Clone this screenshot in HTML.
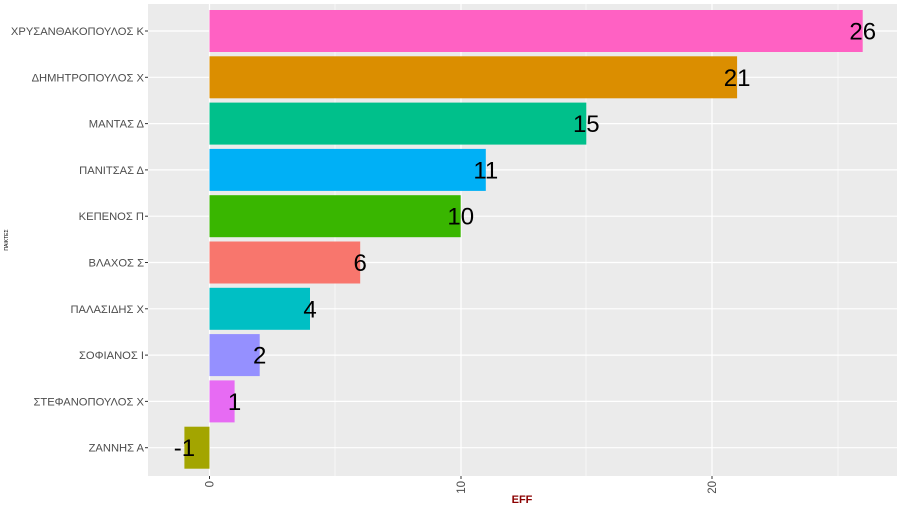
<!DOCTYPE html>
<html><head><meta charset="utf-8"><style>body{margin:0;background:#fff}</style></head><body>
<svg width="900" height="506" xmlns="http://www.w3.org/2000/svg" font-family="Liberation Sans, sans-serif">
<rect x="148" y="4" width="749" height="472" fill="#EBEBEB"/>
<g stroke="#fff" stroke-width="0.6">
<line x1="335" y1="4" x2="335" y2="476"/><line x1="586" y1="4" x2="586" y2="476"/><line x1="838" y1="4" x2="838" y2="476"/>
</g>
<g stroke="#fff" stroke-width="1.2">
<line x1="209.5" y1="4" x2="209.5" y2="476"/><line x1="461" y1="4" x2="461" y2="476"/><line x1="712" y1="4" x2="712" y2="476"/>
<line x1="148" y1="31" x2="897" y2="31"/><line x1="148" y1="77.3" x2="897" y2="77.3"/><line x1="148" y1="123.6" x2="897" y2="123.6"/><line x1="148" y1="169.9" x2="897" y2="169.9"/><line x1="148" y1="216.2" x2="897" y2="216.2"/><line x1="148" y1="262.5" x2="897" y2="262.5"/><line x1="148" y1="308.8" x2="897" y2="308.8"/><line x1="148" y1="355.1" x2="897" y2="355.1"/><line x1="148" y1="401.4" x2="897" y2="401.4"/><line x1="148" y1="447.7" x2="897" y2="447.7"/>
</g>
<g>
<rect x="209.5" y="10" width="653.2" height="42" fill="#FF61C3"/>
<rect x="209.5" y="56.3" width="527.6" height="42" fill="#DB8E00"/>
<rect x="209.5" y="102.6" width="376.8" height="42" fill="#00C08B"/>
<rect x="209.5" y="148.9" width="276.3" height="42" fill="#00B0F6"/>
<rect x="209.5" y="195.2" width="251.2" height="42" fill="#39B600"/>
<rect x="209.5" y="241.5" width="150.7" height="42" fill="#F8766D"/>
<rect x="209.5" y="287.8" width="100.5" height="42" fill="#00BFC4"/>
<rect x="209.5" y="334.1" width="50.2" height="42" fill="#9590FF"/>
<rect x="209.5" y="380.4" width="25.1" height="42" fill="#E76BF3"/>
<rect x="184.4" y="426.7" width="25.1" height="42" fill="#A3A500"/>
</g>
<g font-size="24" text-anchor="middle" fill="#000">
<text x="862.7" y="39.5">26</text><text x="737.1" y="85.8">21</text><text x="586.3" y="132.1">15</text><text x="485.8" y="178.4">11</text><text x="460.7" y="224.7">10</text><text x="360.2" y="271">6</text><text x="310" y="317.3">4</text><text x="259.7" y="363.6">2</text><text x="234.6" y="409.9">1</text><text x="184.4" y="456.2">-1</text>
</g>
<g font-size="11.2" text-anchor="end" fill="#4D4D4D">
<text x="144" y="35">ΧΡΥΣΑΝΘΑΚΟΠΟΥΛΟΣ Κ</text><text x="144" y="81.3">ΔΗΜΗΤΡΟΠΟΥΛΟΣ Χ</text><text x="144" y="127.6">ΜΑΝΤΑΣ Δ</text><text x="144" y="173.9">ΠΑΝΙΤΣΑΣ Δ</text><text x="144" y="220.2">ΚΕΠΕΝΟΣ Π</text><text x="144" y="266.5">ΒΛΑΧΟΣ Σ</text><text x="144" y="312.8">ΠΑΛΑΣΙΔΗΣ Χ</text><text x="144" y="359.1">ΣΟΦΙΑΝΟΣ Ι</text><text x="144" y="405.4">ΣΤΕΦΑΝΟΠΟΥΛΟΣ Χ</text><text x="144" y="451.7">ΖΑΝΝΗΣ Α</text>
</g>
<g stroke="#333" stroke-width="1">
<line x1="145" y1="31" x2="148" y2="31"/><line x1="145" y1="77.3" x2="148" y2="77.3"/><line x1="145" y1="123.6" x2="148" y2="123.6"/><line x1="145" y1="169.9" x2="148" y2="169.9"/><line x1="145" y1="216.2" x2="148" y2="216.2"/><line x1="145" y1="262.5" x2="148" y2="262.5"/><line x1="145" y1="308.8" x2="148" y2="308.8"/><line x1="145" y1="355.1" x2="148" y2="355.1"/><line x1="145" y1="401.4" x2="148" y2="401.4"/><line x1="145" y1="447.7" x2="148" y2="447.7"/>
<line x1="209.5" y1="476" x2="209.5" y2="479"/><line x1="461" y1="476" x2="461" y2="479"/><line x1="712" y1="476" x2="712" y2="479"/>
</g>
<g font-size="11.5" fill="#4D4D4D" text-anchor="end">
<text transform="translate(213.5,481) rotate(-90)">0</text>
<text transform="translate(465,481) rotate(-90)">10</text>
<text transform="translate(716,481) rotate(-90)">20</text>
</g>
<text x="522" y="503" font-size="11" font-weight="bold" fill="#8B0000" text-anchor="middle">EFF</text>
<text transform="translate(8,240) rotate(-90)" font-size="5" fill="#000" text-anchor="middle">ΠΑΙΚΤΕΣ</text>
</svg>
</body></html>
